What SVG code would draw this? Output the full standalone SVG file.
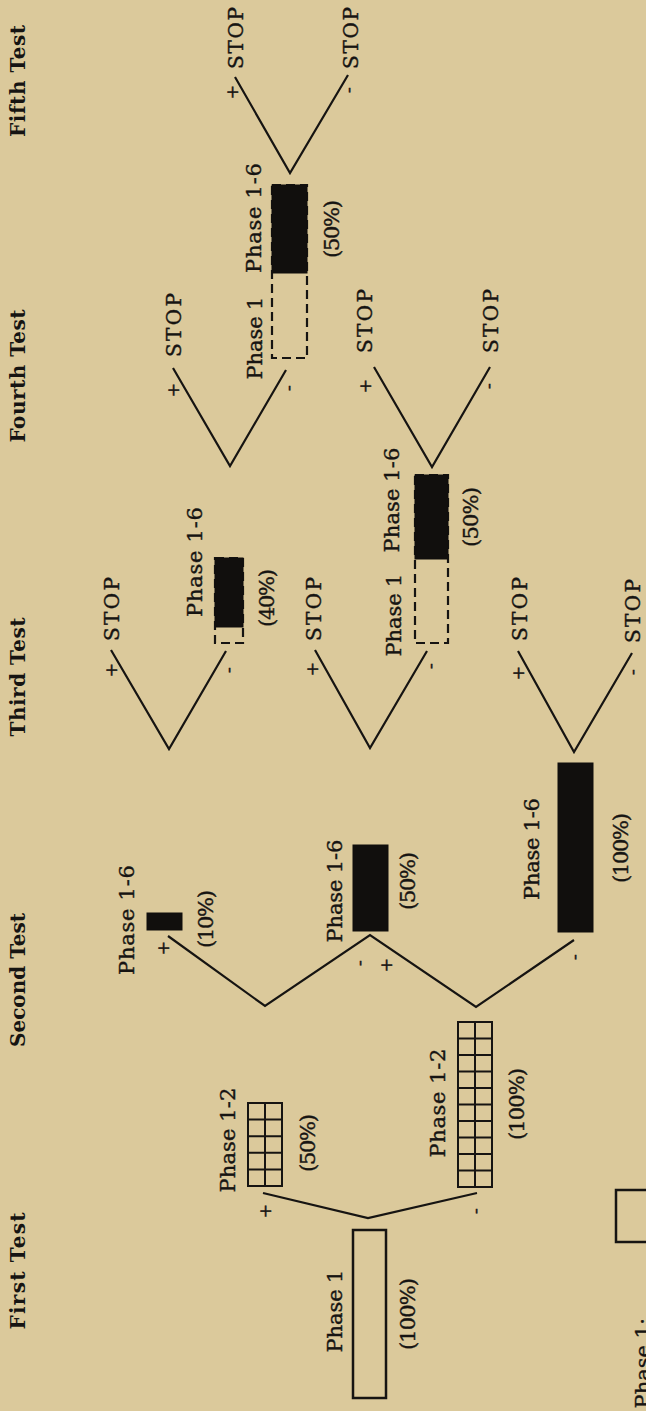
<svg xmlns="http://www.w3.org/2000/svg" width="646" height="1411" viewBox="0 0 646 1411">
<style>
.t{font-family:"DejaVu Serif","Liberation Serif",serif;fill:#161412;stroke:#161412;stroke-width:0.4}
.h{font-size:20px;font-weight:bold;stroke-width:0}
.l{font-size:21px}
.p{font-size:20px}
.s{font-size:17px}
.ln{fill:none;stroke:#161412;stroke-width:2.2;stroke-linejoin:miter}
.box{fill:none;stroke:#161412;stroke-width:2.5}
.blk{fill:#110f0d;stroke:#110f0d;stroke-width:1}
.dash{fill:none;stroke:#161412;stroke-width:2.2;stroke-dasharray:9 5}
.grid{fill:none;stroke:#161412;stroke-width:2}
</style>
<rect x="0" y="0" width="646" height="1411" fill="#dbc99b"/>

<g id="headings">
<text class="t h" text-anchor="middle" textLength="112" transform="translate(25,81) rotate(-90)">Fifth Test</text>
<text class="t h" text-anchor="middle" textLength="133" transform="translate(25,376) rotate(-90)">Fourth Test</text>
<text class="t h" text-anchor="middle" textLength="119" transform="translate(25,677) rotate(-90)">Third Test</text>
<text class="t h" text-anchor="middle" textLength="134" transform="translate(25,980) rotate(-90)">Second Test</text>
<text class="t h" text-anchor="middle" textLength="117" transform="translate(25,1271) rotate(-90)">First Test</text>
</g>

<g id="connectors">
<polyline class="ln" points="263,1193 368,1218 477,1193"/>
<polyline class="ln" points="168,936 265,1006 370,935 476,1007 574,940"/>
<polyline class="ln" points="111,650 169,749 226,651"/>
<polyline class="ln" points="315,650 370,748 427,651"/>
<polyline class="ln" points="518,651 574,752 632,653"/>
<polyline class="ln" points="173,368 230,466 286,370"/>
<polyline class="ln" points="374,367 432,467 490,367"/>
<polyline class="ln" points="235,77 290,173 348,75"/>
</g>

<g id="signs">
<text class="t s" text-anchor="middle" transform="translate(271,1211) rotate(-90)">+</text>
<text class="t s" text-anchor="middle" transform="translate(481,1211) rotate(-90)">-</text>
<text class="t s" text-anchor="middle" transform="translate(169,948) rotate(-90)">+</text>
<text class="t s" text-anchor="middle" transform="translate(365,963) rotate(-90)">-</text>
<text class="t s" text-anchor="middle" transform="translate(392,965) rotate(-90)">+</text>
<text class="t s" text-anchor="middle" transform="translate(580,957) rotate(-90)">-</text>
<text class="t s" text-anchor="middle" transform="translate(117,670) rotate(-90)">+</text>
<text class="t s" text-anchor="middle" transform="translate(234,670) rotate(-90)">-</text>
<text class="t s" text-anchor="middle" transform="translate(318,669) rotate(-90)">+</text>
<text class="t s" text-anchor="middle" transform="translate(436,666) rotate(-90)">-</text>
<text class="t s" text-anchor="middle" transform="translate(524,673) rotate(-90)">+</text>
<text class="t s" text-anchor="middle" transform="translate(638,672) rotate(-90)">-</text>
<text class="t s" text-anchor="middle" transform="translate(179,390) rotate(-90)">+</text>
<text class="t s" text-anchor="middle" transform="translate(294,388) rotate(-90)">-</text>
<text class="t s" text-anchor="middle" transform="translate(371,386) rotate(-90)">+</text>
<text class="t s" text-anchor="middle" transform="translate(494,386) rotate(-90)">-</text>
<text class="t s" text-anchor="middle" transform="translate(238,92) rotate(-90)">+</text>
<text class="t s" text-anchor="middle" transform="translate(354,90) rotate(-90)">-</text>
</g>

<g id="stops">
<text class="t p" text-anchor="middle" textLength="62" transform="translate(243,38) rotate(-90)">STOP</text>
<text class="t p" text-anchor="middle" textLength="62" transform="translate(358,38) rotate(-90)">STOP</text>
<text class="t p" text-anchor="middle" textLength="64" transform="translate(181,325) rotate(-90)">STOP</text>
<text class="t p" text-anchor="middle" textLength="64" transform="translate(372,321) rotate(-90)">STOP</text>
<text class="t p" text-anchor="middle" textLength="64" transform="translate(498,321) rotate(-90)">STOP</text>
<text class="t p" text-anchor="middle" textLength="64" transform="translate(119,609) rotate(-90)">STOP</text>
<text class="t p" text-anchor="middle" textLength="64" transform="translate(321,609) rotate(-90)">STOP</text>
<text class="t p" text-anchor="middle" textLength="64" transform="translate(527,609) rotate(-90)">STOP</text>
<text class="t p" text-anchor="middle" textLength="64" transform="translate(640,611) rotate(-90)">STOP</text>
</g>

<g id="first-phase1">
<rect class="box" x="353" y="1230" width="33" height="168"/>
<text class="t l" text-anchor="middle" textLength="83" transform="translate(342,1311) rotate(-90)">Phase 1</text>
<text class="t l" text-anchor="middle" textLength="72" transform="translate(415,1314) rotate(-90)">(100%)</text>
</g>

<g id="second-phase12-50">
<rect class="grid" x="248" y="1103" width="34" height="83"/>
<path class="grid" d="M265,1103V1186M248,1119.6H282M248,1136.2H282M248,1152.8H282M248,1169.4H282"/>
<text class="t l" text-anchor="middle" textLength="105" transform="translate(235,1140) rotate(-90)">Phase 1-2</text>
<text class="t l" text-anchor="middle" textLength="58" transform="translate(315,1143) rotate(-90)">(50%)</text>
</g>

<g id="second-phase12-100">
<rect class="grid" x="458" y="1022" width="34" height="165"/>
<path class="grid" d="M475,1022V1187M458,1038.5H492M458,1055H492M458,1071.5H492M458,1088H492M458,1104.5H492M458,1121H492M458,1137.5H492M458,1154H492M458,1170.5H492"/>
<text class="t l" text-anchor="middle" textLength="109" transform="translate(445,1103) rotate(-90)">Phase 1-2</text>
<text class="t l" text-anchor="middle" textLength="72" transform="translate(524,1104) rotate(-90)">(100%)</text>
</g>

<g id="third-phase16-10">
<rect class="blk" x="147" y="913" width="35" height="17"/>
<text class="t l" text-anchor="middle" textLength="110" transform="translate(134,920) rotate(-90)">Phase 1-6</text>
<text class="t l" text-anchor="middle" textLength="58" transform="translate(213,919) rotate(-90)">(10%)</text>
</g>

<g id="third-phase16-50">
<rect class="blk" x="353" y="845" width="35" height="86"/>
<text class="t l" text-anchor="middle" textLength="103" transform="translate(342,891) rotate(-90)">Phase 1-6</text>
<text class="t l" text-anchor="middle" textLength="58" transform="translate(415,881) rotate(-90)">(50%)</text>
</g>

<g id="third-phase16-100">
<rect class="blk" x="558" y="763" width="35" height="169"/>
<text class="t l" text-anchor="middle" textLength="102" transform="translate(539,849) rotate(-90)">Phase 1-6</text>
<text class="t l" text-anchor="middle" textLength="70" transform="translate(628,848) rotate(-90)">(100%)</text>
</g>

<g id="fourth-phase16-40">
<rect class="dash" x="215" y="558" width="28" height="85"/>
<rect class="blk" x="215" y="558" width="28" height="69"/>
<text class="t l" text-anchor="middle" textLength="110" transform="translate(202,562) rotate(-90)">Phase 1-6</text>
<text class="t l" text-anchor="middle" textLength="58" transform="translate(274,598) rotate(-90)">(40%)</text>
</g>

<g id="fourth-phase1-phase16-50">
<rect class="dash" x="415" y="475" width="33" height="168"/>
<rect class="blk" x="415" y="475" width="33" height="84"/>
<text class="t l" text-anchor="middle" textLength="105" transform="translate(399,500) rotate(-90)">Phase 1-6</text>
<text class="t l" text-anchor="middle" textLength="83" transform="translate(401,615) rotate(-90)">Phase 1</text>
<text class="t l" text-anchor="middle" textLength="60" transform="translate(478,517) rotate(-90)">(50%)</text>
</g>

<g id="fifth-phase1-phase16-50">
<rect class="dash" x="272" y="185" width="35" height="173"/>
<rect class="blk" x="272" y="185" width="35" height="88"/>
<text class="t l" text-anchor="middle" textLength="110" transform="translate(261,218) rotate(-90)">Phase 1-6</text>
<text class="t l" text-anchor="middle" textLength="83" transform="translate(262,338) rotate(-90)">Phase 1</text>
<text class="t l" text-anchor="middle" textLength="58" transform="translate(339,229) rotate(-90)">(50%)</text>
</g>

<g id="legend">
<rect class="box" x="616" y="1190" width="40" height="52"/>
<text class="t l" text-anchor="end" transform="translate(650,1318) rotate(-90)">Phase 1:</text>
</g>
</svg>
